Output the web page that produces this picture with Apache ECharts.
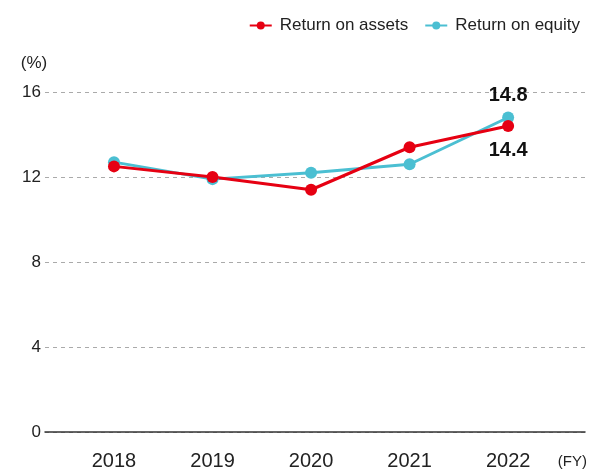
<!DOCTYPE html>
<html>
<head>
<meta charset="utf-8">
<script src="https://cdn.jsdelivr.net/npm/echarts@6/dist/echarts.min.js"></script>
<style>
  html, body { margin: 0; padding: 0; background: #fff; }
  #box { width: 589px; height: 471px; }
</style>
</head>
<body>
<div id="box"></div>
<script>
// fiscal years
var years = [2018, 2019, 2020, 2021, 2022];
// 総資産利益率 / 自己資本利益率 (%)
var roa = [12.5, 12.0, 11.4, 13.4, 14.4];
var roe = [12.7, 11.9, 12.2, 12.6, 14.8];
var yTicks = [0, 4, 8, 12, 16];

var red = "#e60012";
var cyan = "#4bbfd2";
var font = "Helvetica, Arial, 'Liberation Sans', sans-serif";

function pairs(vals) {
  return vals.map(function (v, i) { return [years[i], v]; });
}

var chart = echarts.init(document.getElementById("box"));
var option = {
  animation: false,
  textStyle: { fontFamily: font },
  legend: {
    right: 4,
    top: 12,
    itemWidth: 22,
    itemHeight: 10,
    itemGap: 16,
    textStyle: { fontSize: 17, color: "#222", fontFamily: font, padding: [0, 0, 0, 3] },
    data: ["Return on assets", "Return on equity"]
  },
  grid: { left: 45, right: 4, top: 92, bottom: 39, containLabel: false, outerBoundsMode: "none" },
  xAxis: {
    type: "value",
    min: 2017.30,
    max: 2022.78,
    name: "(FY)",
    nameLocation: "end",
    nameGap: 2,
    nameTextStyle: { fontSize: 15, color: "#222", align: "right", verticalAlign: "top", padding: [22, 0, 0, 0] },
    axisLine: { show: true, lineStyle: { color: "#333", width: 1.5 } },
    axisTick: { show: false },
    splitLine: { show: false },
    axisLabel: {
      customValues: years,
      fontSize: 20,
      color: "#222",
      margin: 19,
      formatter: function (v) { return String(v); }
    }
  },
  yAxis: {
    type: "value",
    min: 0,
    max: 16,
    interval: 4,
    name: "(%)",
    nameLocation: "end",
    nameGap: 20,
    nameTextStyle: { fontSize: 17, color: "#222", align: "center", padding: [0, 22, 0, 0] },
    axisLine: { show: false },
    axisTick: { show: false },
    axisLabel: {
      fontSize: 17,
      color: "#222",
      margin: 4,
      customValues: yTicks
    },
    splitLine: { show: true, lineStyle: { color: "#aaa", type: [4, 4], width: 1 } }
  },
  series: [
    {
      name: "Return on equity",
      type: "line",
      data: pairs(roe),
      symbol: "circle",
      symbolSize: 12,
      color: cyan,
      lineStyle: { width: 3, color: cyan },
      label: {
        show: true,
        position: "top",
        distance: 6,
        fontSize: 20,
        fontWeight: "bold",
        color: "#111",
        formatter: function (p) { return p.dataIndex === years.length - 1 ? p.value[1].toFixed(1) : ""; }
      }
    },
    {
      name: "Return on assets",
      type: "line",
      data: pairs(roa),
      symbol: "circle",
      symbolSize: 12,
      color: red,
      lineStyle: { width: 3, color: red },
      label: {
        show: true,
        position: "bottom",
        distance: 8,
        fontSize: 20,
        fontWeight: "bold",
        color: "#111",
        formatter: function (p) { return p.dataIndex === years.length - 1 ? p.value[1].toFixed(1) : ""; }
      }
    }
  ]
};
chart.setOption(option);
</script>
</body>
</html>
